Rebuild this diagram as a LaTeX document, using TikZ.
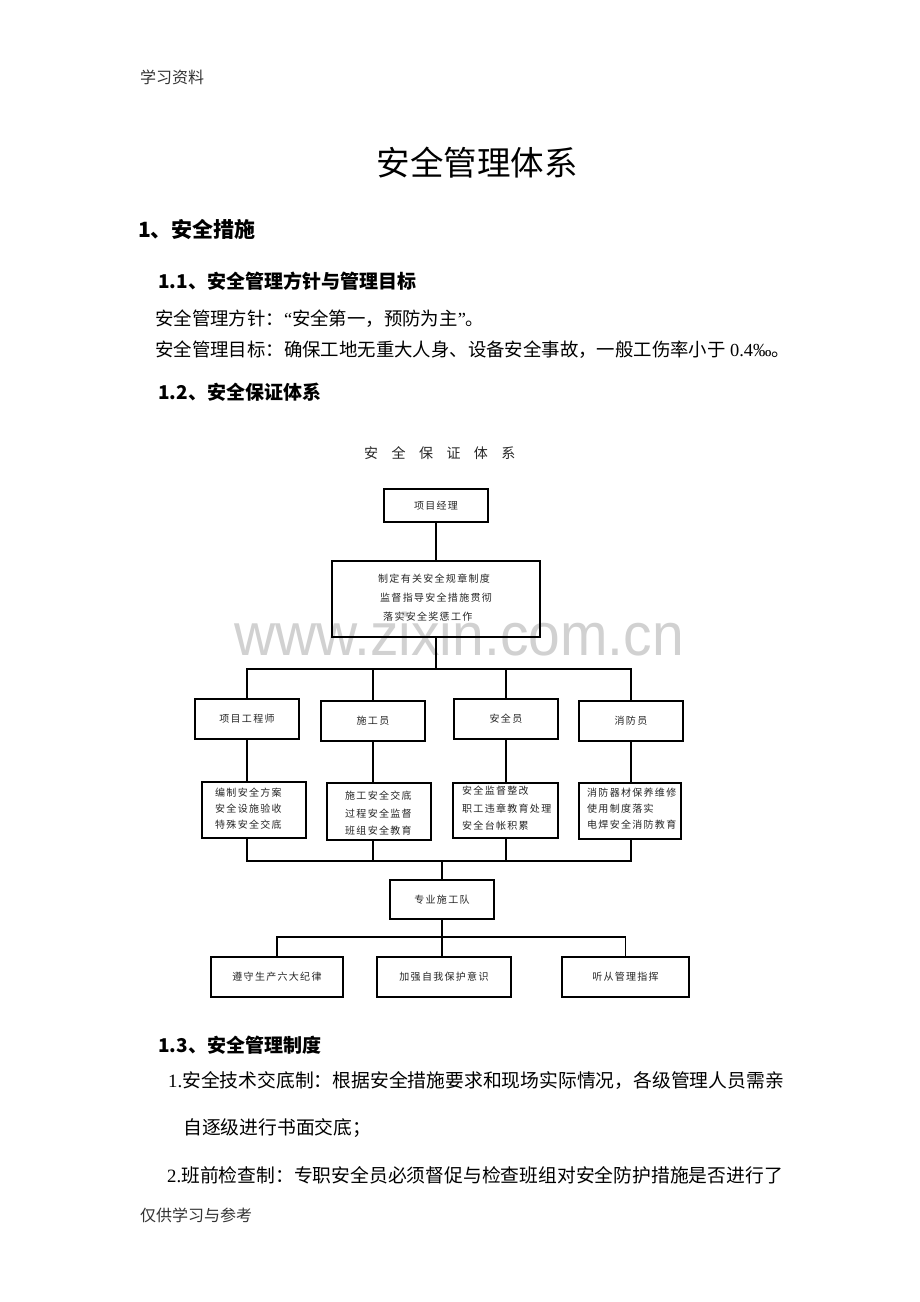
\documentclass[tikz,border=0pt]{standalone}
\usepackage{fontspec}
\setmainfont{Noto Sans CJK SC}
\newfontfamily\cjk{Noto Sans CJK SC}
\newfontfamily\boxfont[LetterSpace=13]{Noto Sans CJK SC}
\newfontfamily\spacedfont[LetterSpace=96]{Noto Sans CJK SC}
\newfontfamily\wmfont{Liberation Sans}
\newfontfamily\latser{Liberation Serif}
\newcommand{\setfs}[1]{\fontsize{#1}{#1}\selectfont}
\tikzset{
  box/.style={draw=black, line width=1.2pt, inner sep=0pt, minimum width=104pt, minimum height=40pt,
              text=black!85, font={\boxfont\setfs{10}}},
  conn/.style={draw=black, line width=1.8pt, line join=miter},
  txt/.style={inner sep=0pt, anchor=west, text=black},
  dtext/.style={inner sep=0pt, anchor=west, align=left, text=black!85},
}
\begin{document}
\begin{tikzpicture}[x=1pt,y=-1pt]
\fill[white] (0,0) rectangle (920,1302);
\useasboundingbox (0,0) rectangle (920,1302);

% watermark
\node[inner sep=0pt, anchor=base, text=black!18] (wm) at (459,655)
  {\scalebox{0.95}[1]{\wmfont\setfs{60}www.zixin.com.cn}};

% page texts
\node[txt, text=black!80, font={\cjk\setfs{16}}] (hdr) at (140,77) {学习资料};
\node[inner sep=0pt, font={\cjk\setfs{33.5}}] (title) at (477,163) {安全管理体系};
\node[txt, font={\cjk\bfseries\setfs{21}}] (h1) at (138,230) {1、安全措施};
\node[txt, font={\cjk\bfseries\setfs{19}}] (h11) at (158,281) {1.1、安全管理方针与管理目标};
\node[txt, font={\cjk\setfs{18.4}}] (p1) at (155,319) {安全管理方针：{\latser “}安全第一，预防为主{\latser ”}。};
\node[txt, font={\cjk\setfs{18.4}}] (p2) at (155,350) {安全管理目标：确保工地无重大人身、设备安全事故，一般工伤率小于{\latser\ 0.4‰}。};
\node[txt, font={\cjk\bfseries\setfs{19}}] (h12) at (158,392) {1.2、安全保证体系};
\node[inner sep=0pt, anchor=west, text=black!85, font={\spacedfont\setfs{14}}] (ctitle) at (364,453) {安全保证体系};

% boxes
\node[box, minimum width=104pt, minimum height=33pt] (pm) at (436,505.5) {项目经理};
\node[box, minimum width=208pt, minimum height=76pt] (big) at (436,599) {};
\node[dtext, font={\boxfont\fontsize{10}{19}\selectfont}] (bigt) at (378,598)
  {制定有关安全规章制度\\\hspace{2pt}监督指导安全措施贯彻\\\hspace{5pt}落实安全奖惩工作};

\node[box] (r1) at (247,719) {项目工程师};
\node[box] (r2) at (373,721) {施工员};
\node[box] (r3) at (506,719) {安全员};
\node[box] (r4) at (631,721) {消防员};

\node[box, minimum height=56pt] (d1) at (254,810) {};
\node[box, minimum height=57pt] (d2) at (379,811.5) {};
\node[box, minimum width=105pt, minimum height=55pt] (d3) at (505.5,810.5) {};
\node[box, minimum width=102pt, minimum height=56pt] (d4) at (630,811) {};
\node[dtext, font={\boxfont\fontsize{10}{16}\selectfont}] (d1t) at (215,809) {编制安全方案\\安全设施验收\\特殊安全交底};
\node[dtext, font={\boxfont\fontsize{10}{17.5}\selectfont}] (d2t) at (345,813.5) {施工安全交底\\过程安全监督\\班组安全教育};
\node[dtext, font={\boxfont\fontsize{10}{17.5}\selectfont}] (d3t) at (462,808.5) {安全监督整改\\职工违章教育处理\\安全台帐积累};
\node[dtext, font={\boxfont\fontsize{10}{16}\selectfont}] (d4t) at (587,809) {消防器材保养维修\\使用制度落实\\电焊安全消防教育};

\node[box, minimum height=39pt] (team) at (442,899.5) {专业施工队};
\node[box, minimum width=132pt] (b1) at (277,977) {遵守生产六大纪律};
\node[box, minimum width=134pt] (b2) at (444,977) {加强自我保护意识};
\node[box, minimum width=127pt] (b3) at (625.5,977) {听从管理指挥};

% connectors
\coordinate (bus1) at (436,669);
\coordinate (bus2) at (442,861);
\coordinate (bus3) at (443,937);
\draw[conn] (pm.south) -- (big.north);
\draw[conn] (big.south) -- (bus1);
\draw[conn] (r1.north) -- (r1.north |- bus1) -- (r4.north |- bus1) -- (r4.north);
\draw[conn] (r2.north |- bus1) -- (r2.north);
\draw[conn] (r3.north |- bus1) -- (r3.north);
\draw[conn] (r1.south) -- (r1.south |- d1.north);
\draw[conn] (r2.south) -- (r2.south |- d2.north);
\draw[conn] (r3.south) -- (r3.south |- d3.north);
\draw[conn] (r4.south) -- (r4.south |- d4.north);
\draw[conn] (r1.south |- d1.south) -- (r1.south |- bus2) -- (r4.south |- bus2) -- (r4.south |- d4.south);
\draw[conn] (r2.south |- d2.south) -- (r2.south |- bus2);
\draw[conn] (r3.south |- d3.south) -- (r3.south |- bus2);
\draw[conn] (bus2) -- (team.north);
\draw[conn] (team.south) -- (team.south |- b2.north);
\draw[conn] (b1.north) -- (b1.north |- bus3) -- (b3.north |- bus3) -- (b3.north);

% section 1.3
\node[txt, font={\cjk\bfseries\setfs{19}}] (h13) at (158,1045) {1.3、安全管理制度};
\node[txt, font={\cjk\setfs{18.8}}] (q1) at (168,1080) {{\latser 1.}安全技术交底制：根据安全措施要求和现场实际情况，各级管理人员需亲};
\node[txt, font={\cjk\setfs{18.8}}] (q2) at (183,1128) {自逐级进行书面交底；};
\node[txt, font={\cjk\setfs{18.8}}] (q3) at (167,1175) {{\latser 2.}班前检查制：专职安全员必须督促与检查班组对安全防护措施是否进行了};
\node[txt, text=black!80, font={\cjk\setfs{16}}] (ftr) at (140,1215) {仅供学习与参考};
\end{tikzpicture}
\end{document}
